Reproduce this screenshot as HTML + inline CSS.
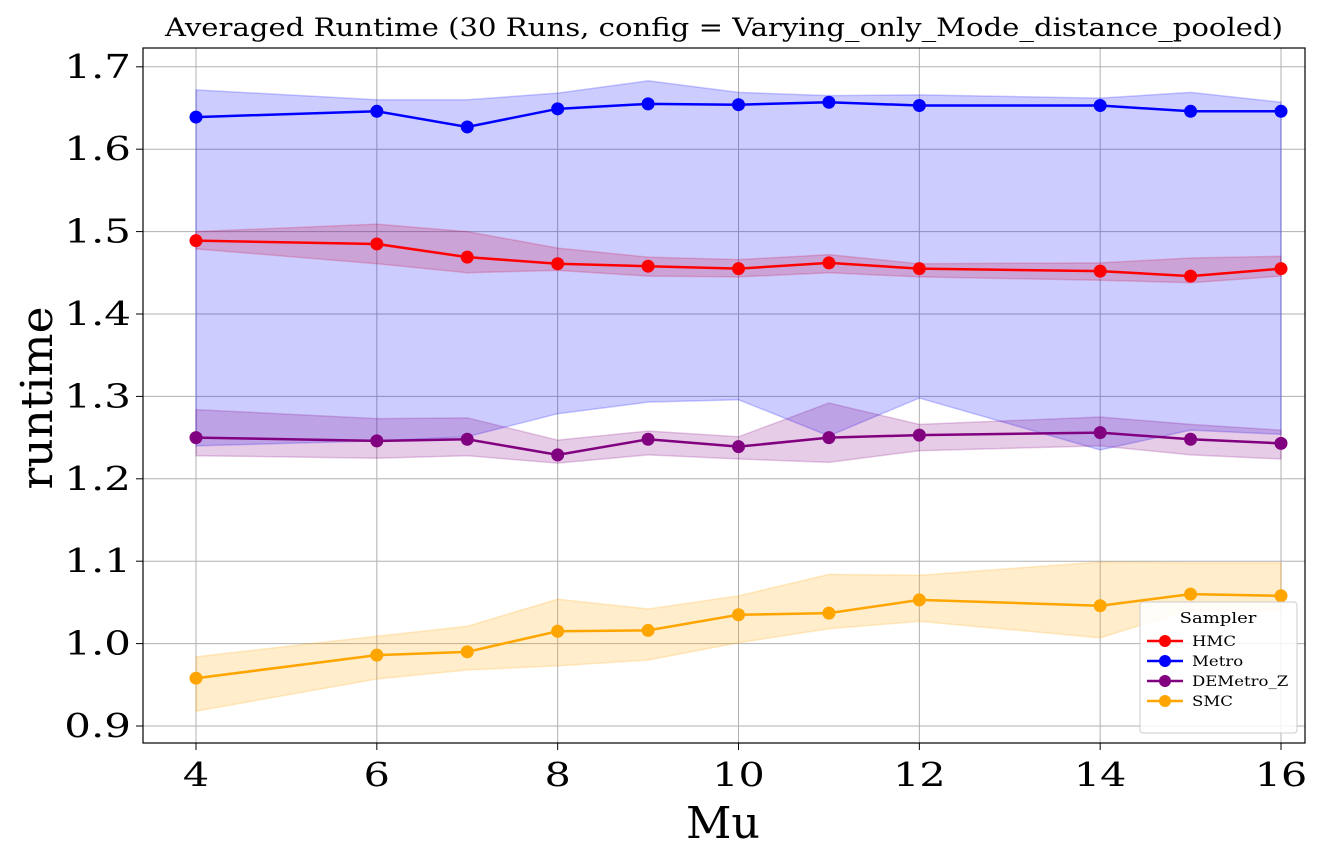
<!DOCTYPE html>
<html><head><meta charset="utf-8"><style>
body{margin:0;background:#fff;}
svg text{font-family:"DejaVu Serif","Liberation Serif",serif;}
</style></head><body>
<svg id="chart" width="1320" height="862" xmlns="http://www.w3.org/2000/svg"></svg>
<script>
const xVals=[4,6,7,8,9,10,11,12,14,15,16];
const xTicks=[4,6,8,10,12,14,16];
const yTicks=[0.9,1.0,1.1,1.2,1.3,1.4,1.5,1.6,1.7];
const seriesNames=["HMC","Metro","DEMetro_Z","SMC"];
const hmcMean=[1.489,1.485,1.469,1.461,1.458,1.455,1.462,1.455,1.452,1.446,1.455];
const hmcUpper=[1.500,1.509,1.500,1.480,1.469,1.466,1.472,1.461,1.462,1.468,1.470];
const hmcLower=[1.479,1.461,1.450,1.453,1.446,1.445,1.450,1.445,1.441,1.438,1.446];
const metroMean=[1.639,1.646,1.627,1.649,1.655,1.654,1.657,1.653,1.653,1.646,1.646];
const metroUpper=[1.672,1.660,1.660,1.668,1.683,1.669,1.665,1.666,1.662,1.669,1.657];
const metroLower=[1.240,1.246,1.251,1.279,1.293,1.296,1.252,1.298,1.235,1.259,1.254];
const deMean=[1.250,1.246,1.248,1.229,1.248,1.239,1.250,1.253,1.256,1.248,1.243];
const deUpper=[1.284,1.273,1.274,1.247,1.258,1.251,1.292,1.266,1.275,1.266,1.259];
const deLower=[1.228,1.225,1.228,1.219,1.229,1.224,1.220,1.234,1.240,1.229,1.224];
const smcMean=[0.958,0.986,0.990,1.015,1.016,1.035,1.037,1.053,1.046,1.060,1.058];
const smcUpper=[0.984,1.009,1.021,1.054,1.042,1.058,1.084,1.083,1.099,1.098,1.098];
const smcLower=[0.918,0.957,0.968,0.973,0.980,1.001,1.018,1.027,1.007,1.041,1.041];

const NS="http://www.w3.org/2000/svg";
const svg=document.getElementById('chart');
const L=143,R=1305,T=48,B=743;
const xs=v=>196+(v-4)*(1281-196)/12;
const ys=v=>726-(v-0.9)*824;
function mk(tag,attrs,parent){const e=document.createElementNS(NS,tag);for(const k in attrs)e.setAttribute(k,attrs[k]);(parent||svg).appendChild(e);return e;}
function stretch(t,f){const w=t.getComputedTextLength();if(w>0){t.setAttribute('textLength',(w*f).toFixed(1));t.setAttribute('lengthAdjust','spacingAndGlyphs');}}

xTicks.forEach(t=>{
  const g=mk('line',{x1:xs(t),x2:xs(t),y1:T,y2:B,stroke:'#b0b0b0','stroke-width':1});
  
  
  mk('line',{x1:xs(t),x2:xs(t),y1:B,y2:B+7,stroke:'#000','stroke-width':1});
  const tx=mk('text',{x:xs(t),y:B+43,'text-anchor':'middle','font-size':33});
  tx.textContent=t;
  
  
  stretch(tx,1.25);
});
yTicks.forEach(t=>{
  const g=mk('line',{x1:L,x2:R,y1:ys(t),y2:ys(t),stroke:'#b0b0b0','stroke-width':1});
  
  
  mk('line',{x1:L-7,x2:L,y1:ys(t),y2:ys(t),stroke:'#000','stroke-width':1});
  const tx=mk('text',{x:L-12,y:ys(t)+11,'text-anchor':'end','font-size':33});
  tx.textContent=t.toFixed(1);
  
  
  stretch(tx,1.27);
});

const series=[
 {name:'hmc',mean:hmcMean,up:hmcUpper,lo:hmcLower,color:'#ff0000'},
 {name:'metro',mean:metroMean,up:metroUpper,lo:metroLower,color:'#0000ff'},
 {name:'demetro-z',mean:deMean,up:deUpper,lo:deLower,color:'#800080'},
 {name:'smc',mean:smcMean,up:smcUpper,lo:smcLower,color:'#ffa500'}
];
series.forEach(s=>{
  let d='M'+xVals.map((x,i)=>xs(x)+','+ys(s.up[i])).join('L');
  d+='L'+xVals.map((x,i)=>[xs(x),ys(s.lo[i])]).reverse().map(p=>p.join(',')).join('L')+'Z';
  const b=mk('path',{d:d,fill:s.color,'fill-opacity':0.2,stroke:s.color,'stroke-opacity':0.2,'stroke-width':1.5});
  
  
});
series.forEach(s=>{
  const p=mk('polyline',{points:xVals.map((x,i)=>xs(x)+','+ys(s.mean[i])).join(' '),fill:'none',stroke:s.color,'stroke-width':2.5});
  
  
  xVals.forEach((x,i)=>{
    const c=mk('circle',{cx:xs(x),cy:ys(s.mean[i]),r:6.5,fill:s.color});
    
    
  });
});
const frame=mk('rect',{x:L,y:T,width:R-L,height:B-T,fill:'none',stroke:'#000','stroke-width':1.2});



const title=mk('text',{x:724,y:36,'text-anchor':'middle','font-size':25});
title.textContent='Averaged Runtime (30 Runs, config = Varying_only_Mode_distance_pooled)';


title.setAttribute('textLength','1118');
title.setAttribute('lengthAdjust','spacingAndGlyphs');
const xl=mk('text',{x:723,y:838,'text-anchor':'middle','font-size':44});
xl.textContent='Mu';


xl.setAttribute('textLength','74');
xl.setAttribute('lengthAdjust','spacingAndGlyphs');
const yl=mk('text',{x:0,y:0,'text-anchor':'middle','font-size':44,transform:'translate(52,398) rotate(-90)'});
yl.textContent='runtime';


yl.setAttribute('textLength','183');
yl.setAttribute('lengthAdjust','spacingAndGlyphs');

const lg=mk('g',{});


mk('rect',{x:1140,y:602,width:157,height:131,rx:3,fill:'#fff','fill-opacity':0.85,stroke:'#ccc'},lg);
const lt=mk('text',{x:1218,y:623,'text-anchor':'middle','font-size':15},lg);
lt.textContent='Sampler';
stretch(lt,1.2);
seriesNames.forEach((n,i)=>{
  const y=641+i*20;
  const e=mk('g',{},lg);
  
  
  mk('line',{x1:1147,x2:1183,y1:y,y2:y,stroke:series[i].color,'stroke-width':2.5},e);
  mk('circle',{cx:1165,cy:y,r:6,fill:series[i].color},e);
  const t=mk('text',{x:1192,y:y+5,'font-size':14},e);
  t.textContent=n;
  stretch(t,1.18);
});
</script>
</body></html>
